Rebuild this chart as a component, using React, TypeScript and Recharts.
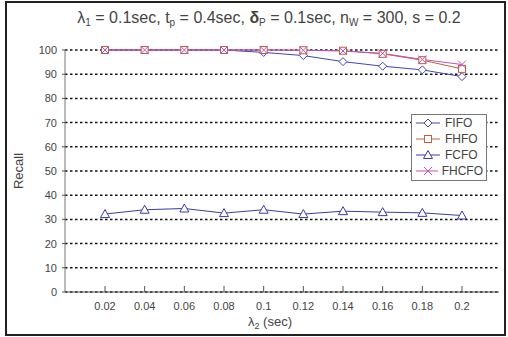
import React from 'react';
import { LineChart, Line, XAxis, YAxis, CartesianGrid } from 'recharts';

const lambda2 = ['0.02', '0.04', '0.06', '0.08', '0.1', '0.12', '0.14', '0.16', '0.18', '0.2'];
const fifo = [100, 100, 100, 100, 99, 97.7, 95.2, 93.3, 91.8, 89];
const fhfo = [100, 100, 100, 100, 100, 99.9, 99.7, 98.4, 95.8, 92.2];
const fcfo = [32.2, 34, 34.5, 32.6, 34, 32.2, 33.4, 33, 32.7, 31.6];
const fhcfo = [100, 100, 100, 100, 100, 99.9, 99.6, 98.6, 96.1, 94];
const yTicks = [0, 10, 20, 30, 40, 50, 60, 70, 80, 90, 100];

const FONT = '"Liberation Sans", Arial, sans-serif';

const series = [
  { key: 'FIFO', color: '#4444b8', shape: 'diamond' },
  { key: 'FHFO', color: '#c0603c', shape: 'square' },
  { key: 'FCFO', color: '#3a3aa8', shape: 'triangle' },
  { key: 'FHCFO', color: '#c050c0', shape: 'cross' },
];

const data = lambda2.map((x, i) => ({
  x,
  FIFO: fifo[i],
  FHFO: fhfo[i],
  FCFO: fcfo[i],
  FHCFO: fhcfo[i],
}));

const Marker = ({ shape, cx, cy, color }: { shape: string; cx: number; cy: number; color: string }) => {
  if (shape === 'diamond')
    return <polygon points={`${cx},${cy - 4} ${cx + 4},${cy} ${cx},${cy + 4} ${cx - 4},${cy}`} fill="#fff" stroke={color} strokeWidth={1} />;
  if (shape === 'square')
    return <rect x={cx - 3.5} y={cy - 3.5} width={7} height={7} fill="#fff" stroke={color} strokeWidth={1} />;
  if (shape === 'triangle')
    return <polygon points={`${cx},${cy - 4.5} ${cx + 4.5},${cy + 3.5} ${cx - 4.5},${cy + 3.5}`} fill="#fff" stroke={color} strokeWidth={1} />;
  return (
    <g stroke={color} strokeWidth={1}>
      <line x1={cx - 4} y1={cy - 4} x2={cx + 4} y2={cy + 4} />
      <line x1={cx - 4} y1={cy + 4} x2={cx + 4} y2={cy - 4} />
    </g>
  );
};

const makeDot = (shape: string, color: string) => (props: any) => (
  <g key={`${shape}-${props.index}`}>
    <Marker shape={shape} cx={props.cx} cy={props.cy} color={color} />
  </g>
);

const XTick = (props: any) => {
  const { x, y, payload } = props;
  return (
    <g>
      <line x1={x} y1={y - 6} x2={x} y2={y} stroke="#555" />
      <text x={x} y={y + 18} textAnchor="middle" fontSize={11} fill="#444" fontFamily={FONT}>
        {payload.value}
      </text>
    </g>
  );
};

const LegendBox = () => (
  <div
    style={{
      position: 'absolute',
      left: 411,
      top: 114,
      border: '1px solid #777',
      background: '#fff',
      padding: '0px 3px 1px 3px',
      fontFamily: FONT,
      fontSize: 12,
      color: '#444',
      width: 68,
    }}
  >
    {series.map((s) => (
      <div key={s.key} style={{ display: 'flex', alignItems: 'center', height: 16 }}>
        <svg width={26} height={12} style={{ marginRight: 4 }}>
          <line x1={1} y1={6} x2={25} y2={6} stroke={s.color} />
          <Marker shape={s.shape} cx={13} cy={6} color={s.color} />
        </svg>
        <span>{s.key}</span>
      </div>
    ))}
  </div>
);

const sub = (t: string, size = 10) => <sub style={{ fontSize: size, verticalAlign: '-3px', lineHeight: 0 }}>{t}</sub>;

const App: React.FC = () => {
  return (
    <div style={{ position: 'absolute', left: 0, top: 0, width: 508, height: 337, background: '#fff', fontFamily: FONT }}>
      <div
        style={{
          position: 'absolute',
          left: 5,
          top: 1,
          width: 497,
          height: 331,
          border: '2px solid #222',
          boxSizing: 'content-box',
        }}
      />
      <div
        style={{
          position: 'absolute',
          left: 0,
          top: 9,
          width: 538,
          textAlign: 'center',
          fontSize: 16,
          color: '#444',
          whiteSpace: 'nowrap',
        }}
      >
        λ{sub('1')} = 0.1sec, t{sub('p')} = 0.4sec, <b>δ</b>
        {sub('P')} = 0.1sec, n{sub('W')} = 300, s = 0.2
      </div>
      <div
        style={{
          position: 'absolute',
          left: 0,
          top: 314,
          width: 540,
          textAlign: 'center',
          fontSize: 13,
          color: '#444',
        }}
      >
        λ{sub('2', 9)} (sec)
      </div>
      <LineChart width={508} height={337} data={data} margin={{ top: 50, right: 9, bottom: 0, left: 0 }}>
        <CartesianGrid yAxisId="l" vertical={false} stroke="#111" strokeWidth={1.5} strokeDasharray="2.5 2.5" />
        <XAxis
          dataKey="x"
          padding={{ left: 40, right: 37 }}
          height={45}
          axisLine={{ stroke: '#555' }}
          tickLine={false}
          tickSize={0}
          tickMargin={0}
          tick={<XTick />}
          interval={0}
        />
        <YAxis
          yAxisId="l"
          domain={[0, 100]}
          ticks={yTicks}
          width={65}
          tickSize={3}
          tickMargin={5}
          axisLine={{ stroke: '#777' }}
          tickLine={{ stroke: '#555' }}
          tick={{ fontSize: 11, fill: '#444', fontFamily: FONT }}
          label={{ value: 'Recall', angle: -90, position: 'insideLeft', offset: 18, style: { fontSize: 13, fill: '#444', fontFamily: FONT, textAnchor: 'middle' } }}
        />
        <YAxis yAxisId="r" orientation="right" width={0} domain={[0, 100]} tick={false} tickLine={false} axisLine={{ stroke: '#888' }} />
        {series.map((s) => (
          <Line
            key={s.key}
            yAxisId="l"
            dataKey={s.key}
            stroke={s.color}
            strokeWidth={1}
            dot={makeDot(s.shape, s.color)}
            activeDot={false}
            isAnimationActive={false}
          />
        ))}
      </LineChart>
      <LegendBox />
    </div>
  );
};

export default App;
